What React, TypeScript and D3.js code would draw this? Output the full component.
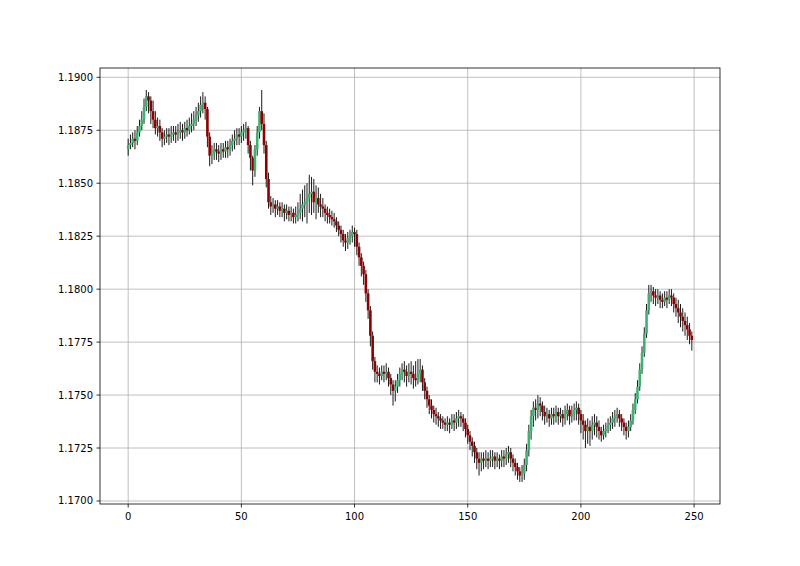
import React from "react";
import * as d3 from "d3";

const opens = [
  1.1866,1.1868,1.1869,1.1871,1.1870,1.1874,1.1877,1.1880,1.1886,1.1891,
  1.1889,1.1884,1.1880,1.1876,1.1877,1.1874,1.1871,1.1872,1.1873,1.1872,
  1.1873,1.1874,1.1873,1.1874,1.1875,1.1874,1.1876,1.1875,1.1877,1.1878,
  1.1880,1.1882,1.1884,1.1887,1.1888,1.1885,1.1872,1.1863,1.1864,1.1866,
  1.1865,1.1864,1.1866,1.1865,1.1867,1.1866,1.1868,1.1870,1.1871,1.1873,
  1.1872,1.1874,1.1875,1.1876,1.1868,1.1862,1.1856,1.1866,1.1874,1.1884,
  1.1878,1.1868,1.1852,1.1841,1.1839,1.1840,1.1838,1.1839,1.1837,1.1838,
  1.1836,1.1837,1.1835,1.1836,1.1834,1.1835,1.1836,1.1838,1.1840,1.1841,
  1.1843,1.1845,1.1846,1.1841,1.1843,1.1840,1.1839,1.1838,1.1836,1.1835,
  1.1834,1.1833,1.1832,1.1830,1.1828,1.1826,1.1823,1.1822,1.1824,1.1825,
  1.1827,1.1826,1.1820,1.1815,1.1811,1.1807,1.1798,1.1790,1.1778,1.1766,
  1.1761,1.1760,1.1759,1.1761,1.1760,1.1761,1.1758,1.1755,1.1752,1.1754,
  1.1757,1.1760,1.1762,1.1761,1.1759,1.1761,1.1760,1.1758,1.1757,1.1760,
  1.1762,1.1756,1.1752,1.1748,1.1745,1.1743,1.1741,1.1740,1.1739,1.1738,
  1.1737,1.1736,1.1737,1.1736,1.1738,1.1737,1.1739,1.1740,1.1739,1.1737,
  1.1734,1.1731,1.1728,1.1726,1.1723,1.1720,1.1718,1.1720,1.1719,1.1720,
  1.1719,1.1720,1.1721,1.1719,1.1720,1.1719,1.1721,1.1720,1.1722,1.1723,
  1.1720,1.1718,1.1716,1.1714,1.1712,1.1713,1.1717,1.1724,1.1733,1.1740,
  1.1744,1.1743,1.1746,1.1745,1.1742,1.1740,1.1741,1.1739,1.1741,1.1740,
  1.1742,1.1740,1.1741,1.1739,1.1741,1.1743,1.1740,1.1741,1.1743,1.1744,
  1.1741,1.1738,1.1736,1.1733,1.1735,1.1733,1.1736,1.1737,1.1735,1.1733,
  1.1731,1.1733,1.1734,1.1736,1.1737,1.1739,1.1740,1.1741,1.1739,1.1737,
  1.1735,1.1733,1.1735,1.1738,1.1743,1.1748,1.1754,1.1762,1.1770,1.1779,
  1.1790,1.1798,1.1799,1.1797,1.1796,1.1797,1.1795,1.1794,1.1796,1.1795,
  1.1797,1.1796,1.1793,1.1791,1.1789,1.1787,1.1785,1.1783,1.1781,1.1778,
];

const highs = [
  1.1871,1.1873,1.1874,1.1875,1.1877,1.1880,1.1884,1.1890,1.1894,1.1893,
  1.1891,1.1889,1.1884,1.1881,1.1880,1.1876,1.1875,1.1876,1.1876,1.1877,
  1.1877,1.1877,1.1878,1.1879,1.1878,1.1879,1.1880,1.1881,1.1883,1.1884,
  1.1886,1.1888,1.1891,1.1893,1.1891,1.1886,1.1874,1.1868,1.1869,1.1869,
  1.1868,1.1869,1.1869,1.1870,1.1870,1.1871,1.1873,1.1875,1.1876,1.1876,
  1.1877,1.1878,1.1879,1.1877,1.1870,1.1863,1.1868,1.1877,1.1886,1.1894,
  1.1883,1.1870,1.1855,1.1844,1.1843,1.1842,1.1842,1.1841,1.1841,1.1840,
  1.1840,1.1839,1.1839,1.1838,1.1839,1.1841,1.1845,1.1847,1.1849,1.1850,
  1.1854,1.1853,1.1852,1.1849,1.1848,1.1845,1.1843,1.1840,1.1839,1.1838,
  1.1837,1.1836,1.1834,1.1832,1.1830,1.1828,1.1826,1.1827,1.1828,1.1830,
  1.1829,1.1828,1.1822,1.1817,1.1813,1.1809,1.1800,1.1792,1.1780,1.1768,
  1.1764,1.1763,1.1764,1.1764,1.1765,1.1763,1.1760,1.1757,1.1757,1.1760,
  1.1763,1.1765,1.1766,1.1764,1.1765,1.1766,1.1764,1.1766,1.1767,1.1767,
  1.1764,1.1758,1.1754,1.1750,1.1748,1.1745,1.1744,1.1742,1.1741,1.1740,
  1.1739,1.1740,1.1739,1.1741,1.1741,1.1742,1.1743,1.1742,1.1741,1.1739,
  1.1736,1.1733,1.1730,1.1728,1.1725,1.1723,1.1723,1.1723,1.1724,1.1723,
  1.1724,1.1724,1.1723,1.1723,1.1722,1.1724,1.1724,1.1725,1.1726,1.1725,
  1.1722,1.1720,1.1718,1.1716,1.1717,1.1720,1.1727,1.1736,1.1743,1.1747,
  1.1748,1.1750,1.1749,1.1747,1.1745,1.1744,1.1743,1.1744,1.1744,1.1745,
  1.1744,1.1744,1.1743,1.1745,1.1746,1.1745,1.1745,1.1746,1.1747,1.1746,
  1.1743,1.1741,1.1738,1.1739,1.1738,1.1740,1.1741,1.1740,1.1738,1.1735,
  1.1736,1.1737,1.1739,1.1740,1.1742,1.1743,1.1744,1.1743,1.1741,1.1739,
  1.1737,1.1738,1.1741,1.1746,1.1751,1.1757,1.1765,1.1773,1.1782,1.1793,
  1.1802,1.1802,1.1801,1.1800,1.1800,1.1799,1.1798,1.1799,1.1799,1.1800,
  1.1800,1.1798,1.1796,1.1795,1.1793,1.1791,1.1789,1.1787,1.1784,1.1780,
];

const lows = [
  1.1863,1.1866,1.1867,1.1866,1.1868,1.1872,1.1875,1.1878,1.1884,1.1883,
  1.1878,1.1876,1.1873,1.1872,1.1870,1.1867,1.1868,1.1869,1.1868,1.1869,
  1.1870,1.1869,1.1870,1.1871,1.1870,1.1871,1.1872,1.1873,1.1874,1.1875,
  1.1877,1.1879,1.1881,1.1883,1.1880,1.1867,1.1858,1.1859,1.1861,1.1861,
  1.1860,1.1861,1.1862,1.1862,1.1862,1.1863,1.1865,1.1866,1.1868,1.1868,
  1.1869,1.1870,1.1871,1.1864,1.1856,1.1849,1.1853,1.1863,1.1871,1.1875,
  1.1864,1.1848,1.1838,1.1835,1.1836,1.1834,1.1835,1.1834,1.1834,1.1832,
  1.1833,1.1832,1.1832,1.1831,1.1831,1.1832,1.1833,1.1832,1.1834,1.1831,
  1.1836,1.1835,1.1836,1.1833,1.1836,1.1834,1.1834,1.1832,1.1831,1.1831,
  1.1830,1.1829,1.1827,1.1825,1.1822,1.1820,1.1818,1.1819,1.1821,1.1822,
  1.1820,1.1816,1.1811,1.1806,1.1802,1.1794,1.1786,1.1773,1.1762,1.1756,
  1.1756,1.1755,1.1757,1.1756,1.1757,1.1754,1.1750,1.1745,1.1747,1.1751,
  1.1754,1.1757,1.1756,1.1754,1.1756,1.1755,1.1753,1.1754,1.1755,1.1756,
  1.1752,1.1748,1.1744,1.1741,1.1739,1.1737,1.1736,1.1735,1.1734,1.1734,
  1.1733,1.1733,1.1732,1.1734,1.1733,1.1734,1.1735,1.1735,1.1733,1.1730,
  1.1727,1.1724,1.1721,1.1718,1.1715,1.1712,1.1714,1.1715,1.1716,1.1715,
  1.1716,1.1716,1.1715,1.1716,1.1715,1.1716,1.1716,1.1717,1.1718,1.1716,
  1.1714,1.1712,1.1710,1.1709,1.1709,1.1710,1.1714,1.1721,1.1729,1.1735,
  1.1738,1.1739,1.1740,1.1738,1.1736,1.1737,1.1735,1.1736,1.1736,1.1737,
  1.1736,1.1737,1.1735,1.1736,1.1738,1.1736,1.1737,1.1738,1.1738,1.1736,
  1.1732,1.1729,1.1725,1.1727,1.1726,1.1729,1.1731,1.1730,1.1729,1.1728,
  1.1729,1.1730,1.1732,1.1733,1.1734,1.1735,1.1737,1.1735,1.1733,1.1731,
  1.1729,1.1730,1.1733,1.1736,1.1741,1.1746,1.1752,1.1760,1.1768,1.1777,
  1.1788,1.1794,1.1793,1.1792,1.1793,1.1791,1.1791,1.1792,1.1791,1.1793,
  1.1792,1.1789,1.1787,1.1784,1.1782,1.1780,1.1778,1.1776,1.1774,1.1771,
];

const closes = [
  1.1868,1.1869,1.1871,1.1870,1.1874,1.1877,1.1880,1.1886,1.1891,1.1889,
  1.1884,1.1880,1.1876,1.1877,1.1874,1.1871,1.1872,1.1873,1.1872,1.1873,
  1.1874,1.1873,1.1874,1.1875,1.1874,1.1876,1.1875,1.1877,1.1878,1.1880,
  1.1882,1.1884,1.1887,1.1888,1.1885,1.1872,1.1863,1.1864,1.1866,1.1865,
  1.1864,1.1866,1.1865,1.1867,1.1866,1.1868,1.1870,1.1871,1.1873,1.1872,
  1.1874,1.1875,1.1876,1.1868,1.1862,1.1856,1.1866,1.1874,1.1884,1.1878,
  1.1868,1.1852,1.1841,1.1839,1.1840,1.1838,1.1839,1.1837,1.1838,1.1836,
  1.1837,1.1835,1.1836,1.1834,1.1835,1.1836,1.1838,1.1840,1.1841,1.1843,
  1.1845,1.1846,1.1841,1.1843,1.1840,1.1839,1.1838,1.1836,1.1835,1.1834,
  1.1833,1.1832,1.1830,1.1828,1.1826,1.1823,1.1822,1.1824,1.1825,1.1827,
  1.1826,1.1820,1.1815,1.1811,1.1807,1.1798,1.1790,1.1778,1.1766,1.1761,
  1.1760,1.1759,1.1761,1.1760,1.1761,1.1758,1.1755,1.1752,1.1754,1.1757,
  1.1760,1.1762,1.1761,1.1759,1.1761,1.1760,1.1758,1.1757,1.1760,1.1762,
  1.1756,1.1752,1.1748,1.1745,1.1743,1.1741,1.1740,1.1739,1.1738,1.1737,
  1.1736,1.1737,1.1736,1.1738,1.1737,1.1739,1.1740,1.1739,1.1737,1.1734,
  1.1731,1.1728,1.1726,1.1723,1.1720,1.1718,1.1720,1.1719,1.1720,1.1719,
  1.1720,1.1721,1.1719,1.1720,1.1719,1.1721,1.1720,1.1722,1.1723,1.1720,
  1.1718,1.1716,1.1714,1.1712,1.1713,1.1717,1.1724,1.1733,1.1740,1.1744,
  1.1743,1.1746,1.1745,1.1742,1.1740,1.1741,1.1739,1.1741,1.1740,1.1742,
  1.1740,1.1741,1.1739,1.1741,1.1743,1.1740,1.1741,1.1743,1.1744,1.1741,
  1.1738,1.1736,1.1733,1.1735,1.1733,1.1736,1.1737,1.1735,1.1733,1.1731,
  1.1733,1.1734,1.1736,1.1737,1.1739,1.1740,1.1741,1.1739,1.1737,1.1735,
  1.1733,1.1735,1.1738,1.1743,1.1748,1.1754,1.1762,1.1770,1.1779,1.1790,
  1.1798,1.1799,1.1797,1.1796,1.1797,1.1795,1.1794,1.1796,1.1795,1.1797,
  1.1796,1.1793,1.1791,1.1789,1.1787,1.1785,1.1783,1.1781,1.1778,1.1776,
];

const xTicks = [0, 50, 100, 150, 200, 250];
const yTicks = [1.17, 1.1725, 1.175, 1.1775, 1.18, 1.1825, 1.185, 1.1875, 1.19];

const W = 800;
const H = 566;
const M = { left: 100, right: 720, top: 68, bottom: 504 };
const UP = "#3cb371";
const DOWN = "#8b0000";
const FONT = "DejaVu Sans, sans-serif";

export default function App() {
  const x = d3.scaleLinear().domain([-12.45, 261.45]).range([M.left, M.right]);
  const y = d3.scaleLinear().domain([1.169858, 1.190439]).range([M.bottom, M.top]);
  const fmt = d3.format(".4f");

  return (
    <svg
      width={W}
      height={H}
      style={{ position: "absolute", left: 0, top: 0, background: "#fff" }}
    >
      <rect x={0} y={0} width={W} height={H} fill="#fff" />
      <g>
        {xTicks.map((t) => (
          <line key={"gx" + t} x1={x(t)} x2={x(t)} y1={M.top} y2={M.bottom} stroke="#b0b0b0" strokeWidth={0.8} />
        ))}
        {yTicks.map((t) => (
          <line key={"gy" + t} x1={M.left} x2={M.right} y1={y(t)} y2={y(t)} stroke="#b0b0b0" strokeWidth={0.8} />
        ))}
      </g>
      <g>
        {closes.map((c, i) => (
          <line key={"w" + i} x1={x(i)} x2={x(i)} y1={y(highs[i])} y2={y(lows[i])} stroke="#000" strokeWidth={0.9} />
        ))}
        {closes.map((c, i) => {
          const o = opens[i];
          if (o === c) return null;
          return (
            <line
              key={"b" + i}
              x1={x(i)}
              x2={x(i)}
              y1={y(o)}
              y2={y(c)}
              stroke={c > o ? UP : DOWN}
              strokeWidth={2.6}
            />
          );
        })}
      </g>
      <rect x={M.left} y={M.top} width={M.right - M.left} height={M.bottom - M.top} fill="none" stroke="#000" strokeWidth={0.8} />
      <g fontFamily={FONT} fontSize={10} fill="#000">
        {xTicks.map((t) => (
          <g key={"tx" + t}>
            <line x1={x(t)} x2={x(t)} y1={M.bottom} y2={M.bottom + 3.5} stroke="#000" strokeWidth={0.8} />
            <text x={x(t)} y={M.bottom + 16} textAnchor="middle">{t}</text>
          </g>
        ))}
        {yTicks.map((t) => (
          <g key={"ty" + t}>
            <line x1={M.left - 3.5} x2={M.left} y1={y(t)} y2={y(t)} stroke="#000" strokeWidth={0.8} />
            <text x={M.left - 7} y={y(t)} dy="0.35em" textAnchor="end">{fmt(t)}</text>
          </g>
        ))}
      </g>
    </svg>
  );
}
